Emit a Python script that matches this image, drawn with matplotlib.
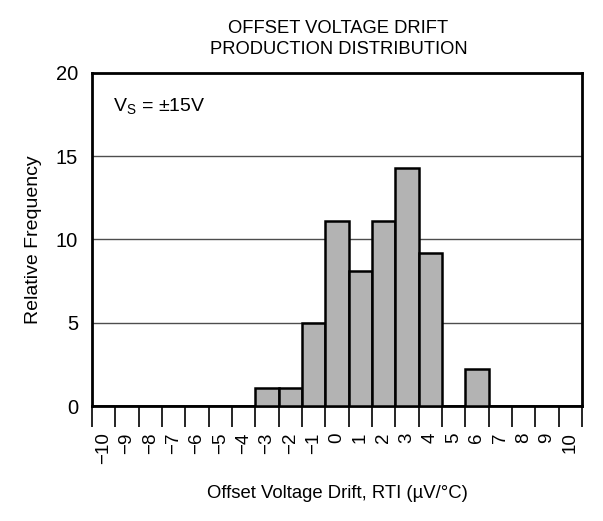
import matplotlib
matplotlib.use('Agg')
import matplotlib.pyplot as plt
import numpy as np

plt.rcParams['font.family'] = ['Liberation Sans', 'DejaVu Sans']

# histogram bins (uV/C, bin centers) and relative frequency
bin_centers = list(range(-10, 11))
freq = [0, 0, 0, 0, 0, 0, 0, 1.1, 1.1, 5.0, 11.1, 8.1, 11.1, 14.3, 9.2, 0, 2.2, 0, 0, 0, 0]
tick_labels = [str(v).replace('-', '\u2212') for v in bin_centers]

fig = plt.figure(figsize=(6.03, 5.21), dpi=100)
ax = fig.add_axes([92 / 603, 1 - 406 / 521, 490 / 603, 333 / 521])

ax.bar(bin_centers, freq, width=1.0, color='#b3b3b3', edgecolor='black',
       linewidth=1.8, zorder=3)

ax.set_xlim(-10.5, 10.5)
ax.set_ylim(0, 20)

# grid lines
for g in [5, 10, 15]:
    ax.axhline(g, color='#4d4d4d', linewidth=1.0, zorder=1)

# x ticks: marks on bin edges, labels at bin centers
ax.set_xticks(np.arange(-10.5, 11.0, 1.0))
ax.set_xticklabels([])
ax.tick_params(axis='x', which='major', direction='out', length=15, width=1.2)
ax.set_xticks(bin_centers, minor=True)
ax.set_xticklabels(tick_labels, minor=True, rotation=90, fontsize=13.5)
ax.tick_params(axis='x', which='minor', length=0, pad=19)

ax.set_yticks([0, 5, 10, 15, 20])
ax.tick_params(axis='y', length=0, pad=10, labelsize=14.5)

for s in ax.spines.values():
    s.set_linewidth(2.0)

ax.text(-9.6, 17.7, r'V$_\mathregular{S}$ = ±15V', fontsize=14)

ax.set_ylabel('Relative Frequency', fontsize=14, labelpad=10)
ax.set_xlabel('Offset Voltage Drift, RTI (µV/°C)', fontsize=13.3, labelpad=15)
fig.text(338.5 / 603, 1 - 39 / 521, 'OFFSET VOLTAGE DRIFT\nPRODUCTION DISTRIBUTION',
         ha='center', va='center', fontsize=13.2, linespacing=1.25)

fig.savefig('out.png', dpi=100)
